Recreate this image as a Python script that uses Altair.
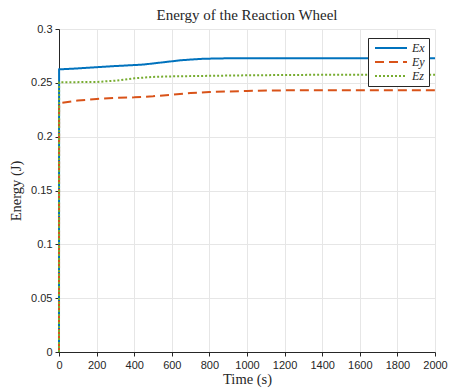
import altair as alt
import pandas as pd

# Data
t_x = [0, 0.5, 100, 200, 300, 400, 450, 500, 550, 650, 750, 850, 1000, 1500, 2000]
e_x = [0, 0.2625, 0.2634, 0.2645, 0.2656, 0.2665, 0.2670, 0.2680, 0.2690, 0.2710, 0.2722, 0.2727, 0.2728, 0.2728, 0.2728]

t_y = [0, 0.5, 100, 200, 300, 400, 450, 500, 600, 700, 800, 1000, 1200, 2000]
e_y = [0, 0.2310, 0.2335, 0.2350, 0.2360, 0.2365, 0.2370, 0.2375, 0.2390, 0.2405, 0.2415, 0.2425, 0.2430, 0.2430]

t_z = [0, 0.5, 200, 300, 400, 500, 600, 800, 1000, 1400, 2000]
e_z = [0, 0.2505, 0.2508, 0.2520, 0.2542, 0.2555, 0.2560, 0.2565, 0.2570, 0.2575, 0.2575]

series_names = ["Ex", "Ey", "Ez"]
series_colors = ["#0072BD", "#D95319", "#77AC30"]
series_dashes = [[1, 0], [9, 5], [2, 2]]

x_ticks = [0, 200, 400, 600, 800, 1000, 1200, 1400, 1600, 1800, 2000]
y_ticks = [0, 0.05, 0.1, 0.15, 0.2, 0.25, 0.3]

rows = []
for name, ts, es in zip(series_names, [t_x, t_y, t_z], [e_x, e_y, e_z]):
    for i, (t, e) in enumerate(zip(ts, es)):
        rows.append({"Time": t, "Energy": e, "Series": name, "order": i})
df = pd.DataFrame(rows)

chart = alt.Chart(df).mark_line(strokeWidth=2).encode(
    x=alt.X("Time:Q",
            scale=alt.Scale(domain=[0, 2000], nice=False),
            axis=alt.Axis(values=x_ticks, format="d", title="Time (s)",
                          titleFont="Liberation Serif", titleFontSize=14.5,
                          titleFontWeight="normal", titleColor="#262626",
                          titlePadding=2, labelFlush=False, labelOverlap=False)),
    y=alt.Y("Energy:Q",
            scale=alt.Scale(domain=[0, 0.3], nice=False),
            axis=alt.Axis(values=y_ticks, format="~g", title="Energy (J)",
                          titleFont="Liberation Serif", titleFontSize=14.5,
                          titleFontWeight="normal", titleColor="#262626",
                          titlePadding=7, labelFlush=False)),
    color=alt.Color("Series:N",
                    scale=alt.Scale(domain=series_names, range=series_colors),
                    legend=alt.Legend(title=None, orient="none", legendX=309, legendY=9,
                                      strokeColor="#262626", fillColor="white",
                                      padding=4, symbolType="M-0.6,0H5.8",
                                      symbolSize=100, symbolStrokeWidth=2,
                                      labelFont="Liberation Serif", labelFontSize=12,
                                      labelFontStyle="italic", labelColor="#262626",
                                      rowPadding=2, labelOffset=28)),
    strokeDash=alt.StrokeDash("Series:N",
                              scale=alt.Scale(domain=series_names, range=series_dashes),
                              legend=None),
    order="order:Q",
).properties(
    width=376, height=323,
    title=alt.TitleParams("Energy of the Reaction Wheel", font="Liberation Serif",
                          fontSize=15, fontWeight="normal", color="#262626", offset=0),
    autosize=alt.AutoSizeParams(type="none"),
    padding={"left": 59, "top": 29, "right": 14, "bottom": 38},
).configure_view(
    stroke=None
).configure_axis(
    labelFont="Liberation Sans", labelFontSize=11, labelColor="#262626",
    domainColor="#262626", tickColor="#262626", tickSize=4,
    gridColor="#e6e6e6", labelPadding=3,
)

chart.save("out.html", embed_options={"renderer": "svg", "actions": False})
